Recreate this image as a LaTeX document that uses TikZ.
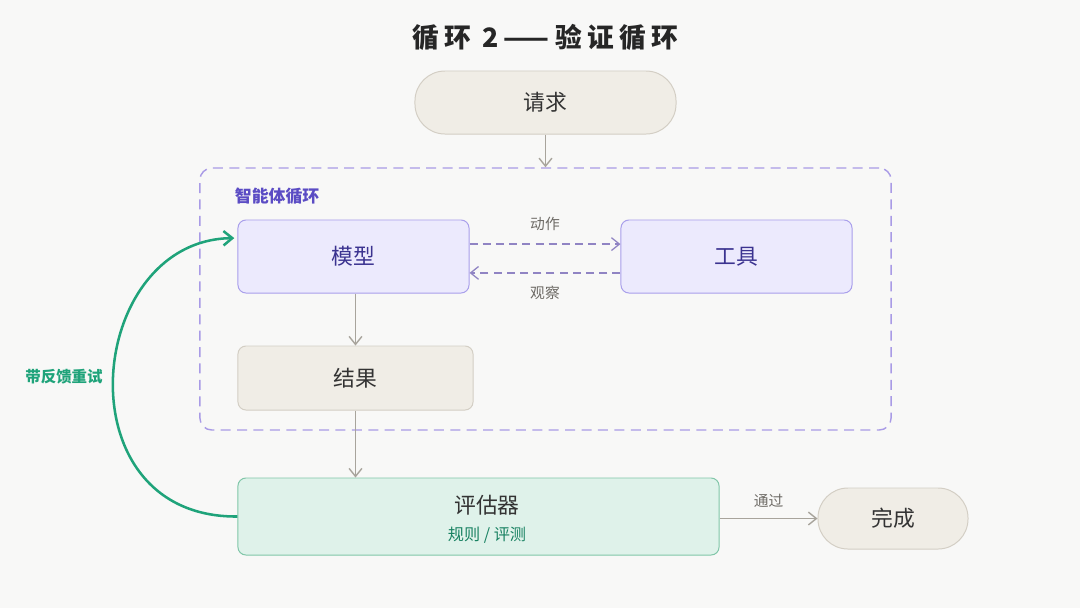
\documentclass[tikz,border=0pt]{standalone}
\usepackage{fontspec}
\setmainfont{Noto Sans CJK SC}
\usepackage{tikz}
\usetikzlibrary{positioning, shapes, arrows.meta, calc}
\definecolor{bgpaper}{HTML}{F8F8F7}
\definecolor{sandfill}{HTML}{F0EDE6}
\definecolor{sanddraw}{HTML}{D3CEC4}
\definecolor{lilacfill}{HTML}{ECEAFD}
\definecolor{lilacdraw}{HTML}{A89EEB}
\definecolor{lilactext}{HTML}{3B3390}
\definecolor{loopline}{HTML}{A99BE6}
\definecolor{looptext}{HTML}{5B4CC4}
\definecolor{mintfill}{HTML}{DFF2EA}
\definecolor{mintdraw}{HTML}{80C6A8}
\definecolor{retrygreen}{HTML}{1FA37A}
\definecolor{greyarrow}{HTML}{A8A49C}
\definecolor{greytext}{HTML}{6E6B66}

\begin{document}
\begin{tikzpicture}[
  x=0.025cm, y=-0.025cm,
  font=\fontsize{15.5}{18}\selectfont,
  box/.style={
    draw, rounded corners=2mm, align=center, line width=0.7pt
  },
  sandbox/.style={box, fill=sandfill, draw=sanddraw, text=black!80},
  lilacbox/.style={box, fill=lilacfill, draw=lilacdraw, text=lilactext,
    minimum width=5.775cm, minimum height=1.825cm},
  pill/.style={sandbox, rounded corners=7.5mm},
  flow/.style={-{Straight Barb[length=2mm, width=3.2mm]}, draw=greyarrow, line width=1pt},
  act/.style={-{Straight Barb[length=2mm, width=3.2mm]}, draw=loopline!85!black,
    line width=0.9pt, dash pattern=on 2mm off 1.3mm},
  small/.style={font=\fontsize{10.5}{12}\selectfont, text=greytext}
]
\fill[bgpaper] (0,0) rectangle (1080,608);

\node[font=\fontsize{19}{22}\selectfont\bfseries\addfontfeature{LetterSpace=20}, text=black!85] (title) at (545,37) {循环 2——验证循环};

\node[pill, minimum width=6.525cm, minimum height=1.575cm] (q) at (545.5,102.5) {请求};

% agent loop container
\node[draw=loopline, line width=1pt, dash pattern=on 2.5mm off 1.6mm, rounded corners=3mm,
  minimum width=17.275cm, minimum height=6.55cm] (loop) at (545.5,299) {};
\node[font=\fontsize{12}{14}\selectfont\bfseries, text=looptext, anchor=west] (looplbl) at (230,196) {智能体循环};

\node[lilacbox] (m) at (353.5,256.5) {模型};
\node[lilacbox] (t) at (736.5,256.5) {工具};
\node[sandbox, minimum width=5.875cm, minimum height=1.6cm] (r) at (355.5,378) {结果};

\node[box, fill=mintfill, draw=mintdraw, minimum width=12.025cm, minimum height=1.925cm] (e) at (478.5,516.5) {};
\node[text=black!80] (elbl) at (487,505) {评估器};
\node[font=\fontsize{11.5}{13}\selectfont, text=retrygreen!80!black] (esub) at (487,535) {规则 / 评测};

\node[pill, minimum width=3.75cm, minimum height=1.525cm] (d) at (893,518.5) {完成};

\draw[flow] (q.south) -- (q.south |- loop.north);
\draw[act] ([yshift=0.31cm]m.east) -- ([yshift=0.31cm]t.west)
  node[midway, above=2mm, small] (actlbl) {动作};
\draw[act] ([yshift=-0.41cm]t.west) -- ([yshift=-0.41cm]m.east)
  node[midway, below=2mm, small] (obslbl) {观察};
\draw[flow] (m.south -| r.north) -- (r.north);
\draw[flow] (r.south) -- (r.south |- e.north);
\draw[flow] (e.east |- d.west) -- (d.west)
  node[midway, above=1.5mm, small] (passlbl) {通过};

% retry with feedback
\draw[-{Straight Barb[length=2.2mm, width=3.6mm]}, retrygreen, line width=1.8pt]
  (e.west) .. controls (60,518) and (85,240) .. ([xshift=-0.08cm, yshift=0.46cm]m.west);
\node[font=\fontsize{11}{13}\selectfont\bfseries, text=retrygreen] (retrylbl) at (64,377) {带反馈重试};
\end{tikzpicture}
\end{document}
